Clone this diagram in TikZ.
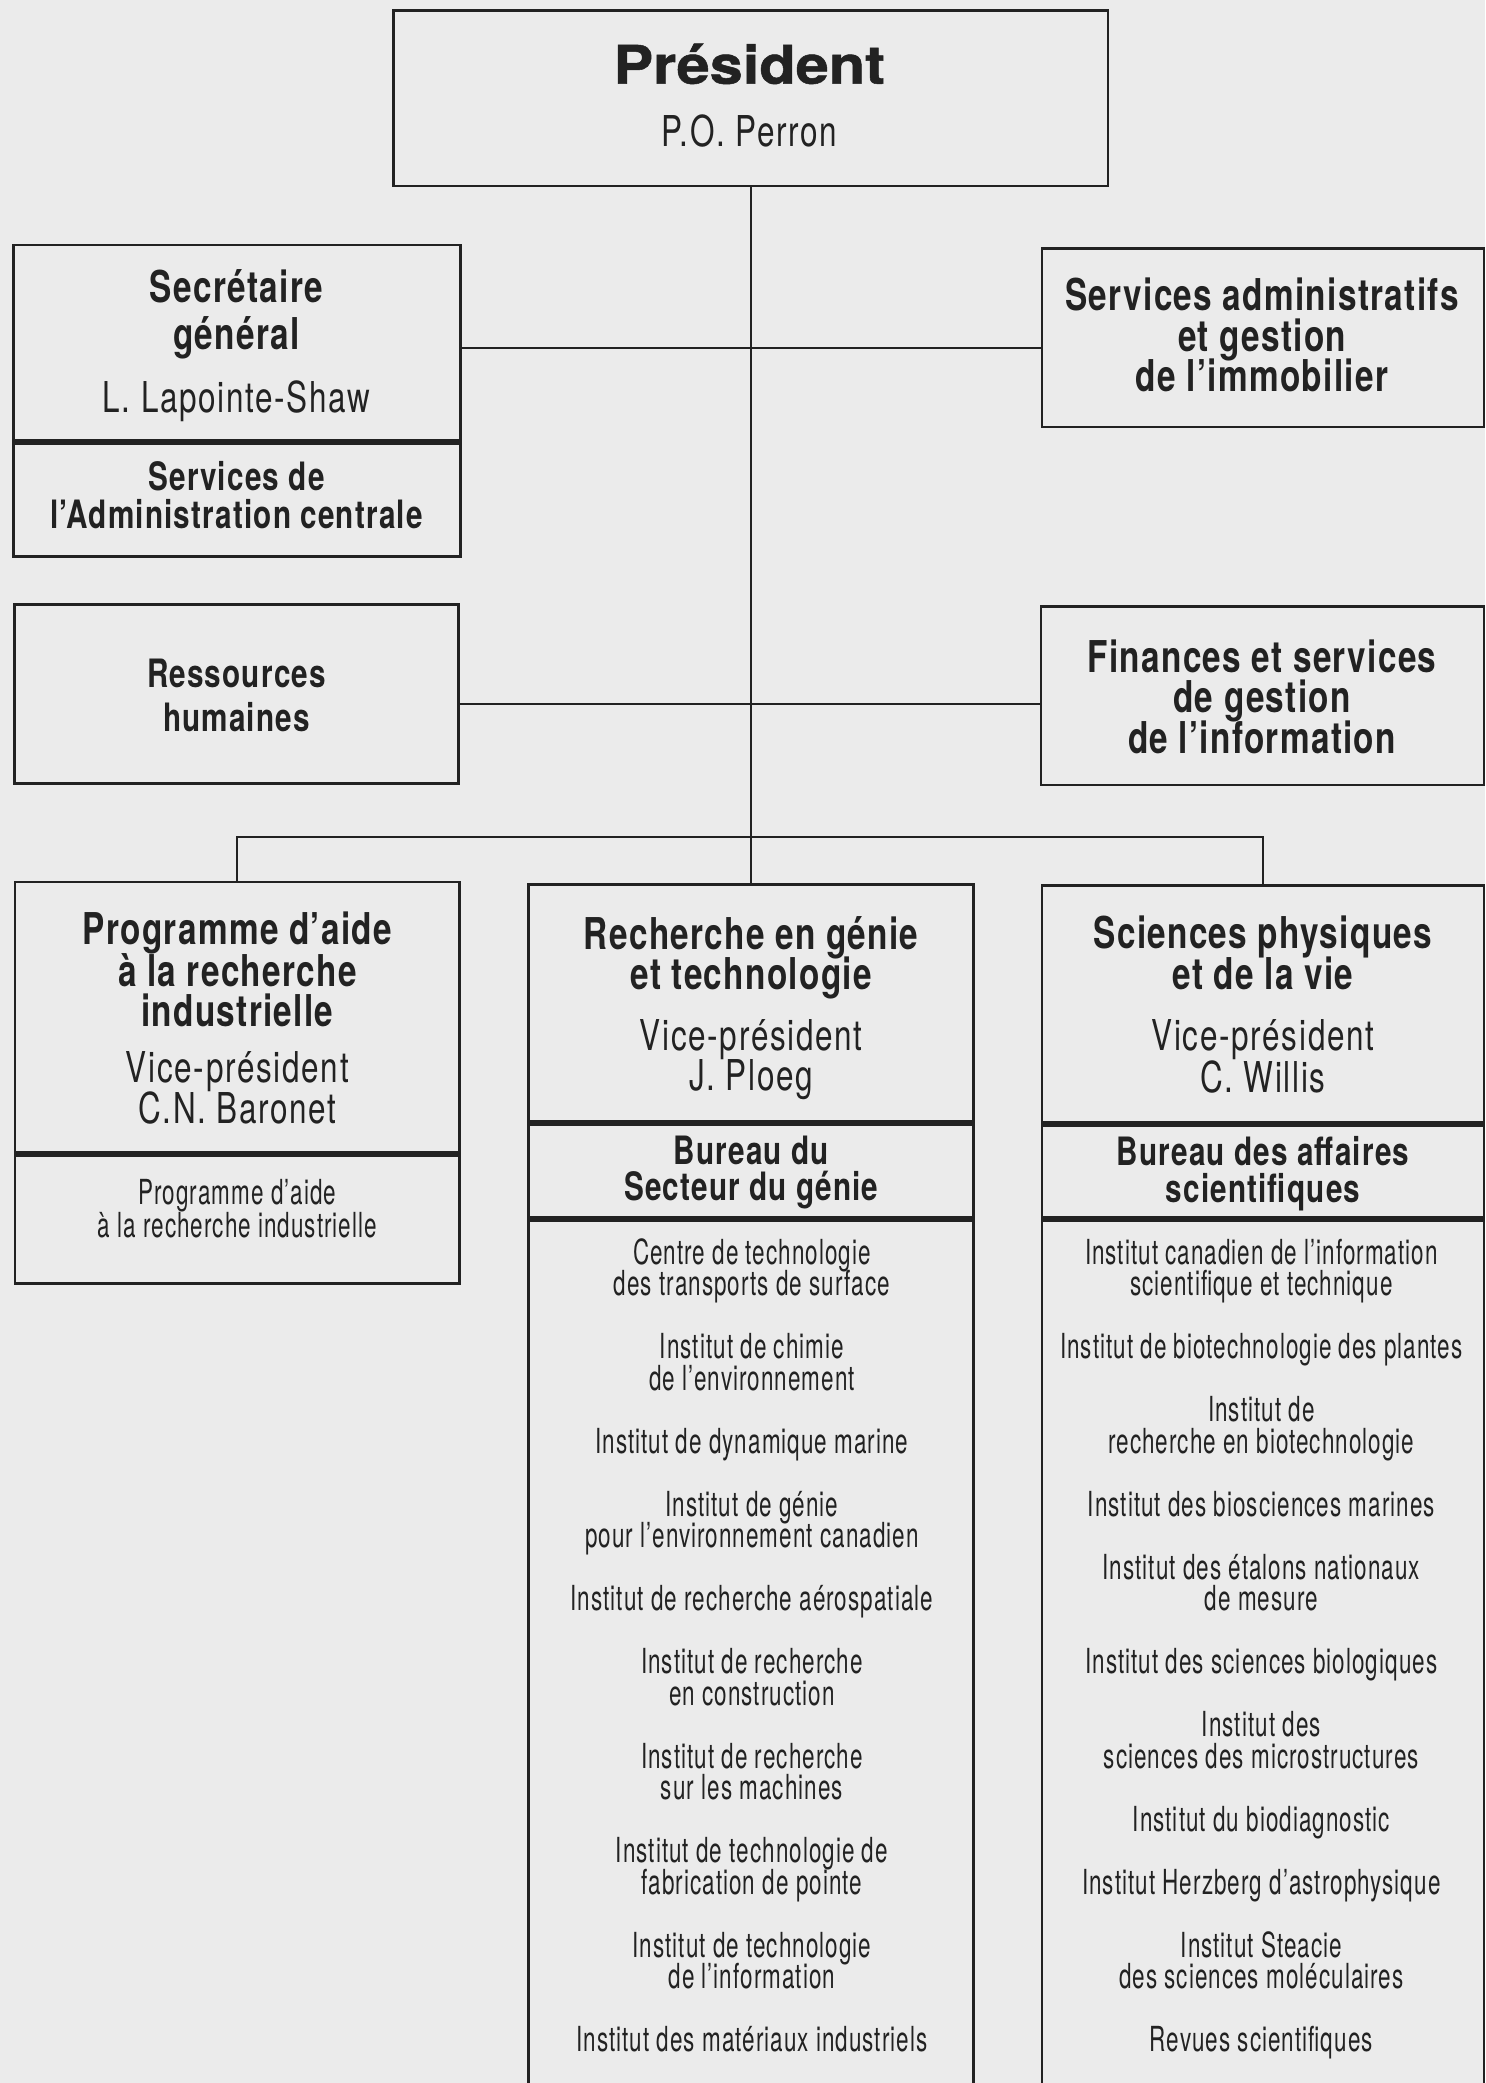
\documentclass[tikz,border=0pt]{standalone}
\usepackage{fontspec}
\setmainfont{TeX Gyre Heros}
\newfontfamily\titlefont{TeX Gyre Heros}[FakeStretch=1.12,FakeBold=1]
\newfontfamily\headfont{TeX Gyre Heros}[FakeStretch=0.76,LetterSpace=3]
\newfontfamily\namefont{TeX Gyre Heros}[FakeStretch=0.74,LetterSpace=4]
\newfontfamily\listfont{TeX Gyre Heros}[FakeStretch=0.65,LetterSpace=3]
\definecolor{bg}{RGB}{235,235,235}
\definecolor{ink}{RGB}{34,34,34}
\tikzset{
  box/.style={draw=ink, line width=1pt, rectangle, inner sep=0pt, outer sep=0pt, fill=bg},
  divider/.style={draw=ink, line width=2.2pt},
  conn/.style={draw=ink, line width=0.8pt},
  ttl/.style={anchor=base, inner sep=0pt, text=ink, font=\titlefont\bfseries\fontsize{20}{24}\selectfont},
  hbig/.style={anchor=base, inner sep=0pt, text=ink, font=\headfont\bfseries\fontsize{16.5}{18}\selectfont},
  hsm/.style={anchor=base, inner sep=0pt, text=ink, font=\headfont\bfseries\fontsize{14.7}{17}\selectfont},
  nm/.style={anchor=base, inner sep=0pt, text=ink, font=\namefont\fontsize{16}{18}\selectfont},
  lstline/.style={anchor=base, inner sep=0pt, text=ink, font=\listfont\fontsize{13}{14}\selectfont},
}
\begin{document}
\begin{tikzpicture}[x=0.5pt, y=-0.5pt]
\fill[bg] (0,0) rectangle (1118,1568);
\clip (0,0) rectangle (1118,1568);

% ---- boxes ----
\node[box, minimum width=269pt, minimum height=66pt] (pres) at (565,74) {};
\node[box, minimum width=168.2pt, minimum height=74.05pt] (sec) at (178.2,258.55) {};
\node[box, minimum width=168.2pt, minimum height=43.2pt] (secsub) at (178.2,375.8) {};
\node[box, minimum width=166.3pt, minimum height=67.15pt] (adm) at (950.7,254.15) {};
\node[box, minimum width=167pt, minimum height=67.45pt] (rh) at (178,522.25) {};
\node[box, minimum width=166.7pt, minimum height=67.35pt] (fin) at (950.3,523.65) {};
\node[box, minimum width=167.35pt, minimum height=102.2pt] (prog) at (178.65,766.2) {};
\node[box, minimum width=167.35pt, minimum height=48.95pt] (progsub) at (178.65,917.35) {};
\node[box, minimum width=167.5pt, minimum height=89.85pt] (rech) at (565.5,755.55) {};
\node[box, minimum width=167.5pt, minimum height=36pt] (rechbur) at (565.5,881.4) {};
\node[box, minimum width=167.5pt, minimum height=341.3pt] (rechlist) at (565.5,1258.7) {};
\node[box, minimum width=166.3pt, minimum height=89.75pt] (sci) at (950.7,756.15) {};
\node[box, minimum width=166.3pt, minimum height=35.75pt] (scibur) at (950.7,881.65) {};
\node[box, minimum width=166.3pt, minimum height=341.3pt] (scilist) at (950.7,1258.7) {};

% ---- thick dividers ----
\draw[divider] (sec.south west) -- (sec.south east);
\draw[divider] (prog.south west) -- (prog.south east);
\draw[divider] (rech.south west) -- (rech.south east);
\draw[divider] (rechbur.south west) -- (rechbur.south east);
\draw[divider] (sci.south west) -- (sci.south east);
\draw[divider] (scibur.south west) -- (scibur.south east);

% ---- connectors ----
\coordinate (j1) at (566,262);
\coordinate (j2) at (566,530);
\coordinate (bus) at (566,630);
\draw[conn] (pres.south) -- (pres.south |- rech.north);
\draw[conn] (sec.east |- j1) -- (adm.west |- j1);
\draw[conn] (rh.east |- j2) -- (fin.west |- j2);
\draw[conn] (prog.north) -- (prog.north |- bus) -- (sci.north |- bus) -- (sci.north);

% ---- texts ----
\node[ttl] (pres-t1) at (564,63) {Président};
\node[nm] (pres-t2) at (564,110.5) {P.O. Perron};

\node[hbig] (sec-t1) at (178,227.5) {Secrétaire};
\node[hbig] (sec-t2) at (178,263) {général};
\node[nm] (sec-t3) at (178,310.5) {L. Lapointe-Shaw};
\node[hsm] (secsub-t1) at (178,369.2) {Services de};
\node[hsm] (secsub-t2) at (178,398) {l’Administration centrale};

\node[hbig] (adm-t1) at (950,234) {Services administratifs};
\node[hbig] (adm-t2) at (950,264.5) {et gestion};
\node[hbig] (adm-t3) at (950,295) {de l’immobilier};

\node[hsm] (rh-t1) at (178,517.5) {Ressources};
\node[hsm] (rh-t2) at (178,550.5) {humaines};

\node[hbig] (fin-t1) at (950,506) {Finances et services};
\node[hbig] (fin-t2) at (950,536.5) {de gestion};
\node[hbig] (fin-t3) at (950,567) {de l’information};

\node[hbig] (prog-t1) at (178.7,711) {Programme d’aide};
\node[hbig] (prog-t2) at (178.7,742.5) {à la recherche};
\node[hbig] (prog-t3) at (178.7,773) {industrielle};
\node[nm] (prog-t4) at (178.7,814.5) {Vice-président};
\node[nm] (prog-t5) at (178.7,845.5) {C.N. Baronet};
\node[lstline] (progsub-t1) at (178.7,906.5) {Programme d’aide};
\node[lstline] (progsub-t2) at (178.7,931.5) {à la recherche industrielle};

\node[hbig] (rech-t1) at (565.5,714.8) {Recherche en génie};
\node[hbig] (rech-t2) at (565.5,744.5) {et technologie};
\node[nm] (rech-t3) at (565.5,790.5) {Vice-président};
\node[nm] (rech-t4) at (565.5,821) {J. Ploeg};
\node[hsm] (rechbur-t1) at (565.5,876.3) {Bureau du};
\node[hsm] (rechbur-t2) at (565.5,904) {Secteur du génie};

\node[hbig] (sci-t1) at (950.7,714) {Sciences physiques};
\node[hbig] (sci-t2) at (950.7,745) {et de la vie};
\node[nm] (sci-t3) at (950.7,791) {Vice-président};
\node[nm] (sci-t4) at (950.7,822.5) {C. Willis};
\node[hsm] (scibur-t1) at (950.7,877.5) {Bureau des affaires};
\node[hsm] (scibur-t2) at (950.7,905) {scientifiques};

% ---- lists (one line per node, on a grid of 23.72 px) ----
\foreach \k/\t in {0/Centre de technologie, 1/des transports de surface,
  3/Institut de chimie, 4/de l’environnement,
  6/Institut de dynamique marine,
  8/Institut de génie, 9/pour l’environnement canadien,
  11/Institut de recherche aérospatiale,
  13/Institut de recherche, 14/en construction,
  16/Institut de recherche, 17/sur les machines,
  19/Institut de technologie de, 20/fabrication de pointe,
  22/Institut de technologie, 23/de l’information,
  25/Institut des matériaux industriels}
  {\node[lstline] (rl-\k) at (566,951.5+\k*23.72) {\t};}

\foreach \k/\t in {0/Institut canadien de l’information, 1/scientifique et technique,
  3/Institut de biotechnologie des plantes,
  5/Institut de, 6/recherche en biotechnologie,
  8/Institut des biosciences marines,
  10/Institut des étalons nationaux, 11/de mesure,
  13/Institut des sciences biologiques,
  15/Institut des, 16/sciences des microstructures,
  18/Institut du biodiagnostic,
  20/Institut Herzberg d’astrophysique,
  22/Institut Steacie, 23/des sciences moléculaires,
  25/Revues scientifiques}
  {\node[lstline] (sl-\k) at (949.5,951.5+\k*23.72) {\t};}
\end{tikzpicture}
\end{document}
